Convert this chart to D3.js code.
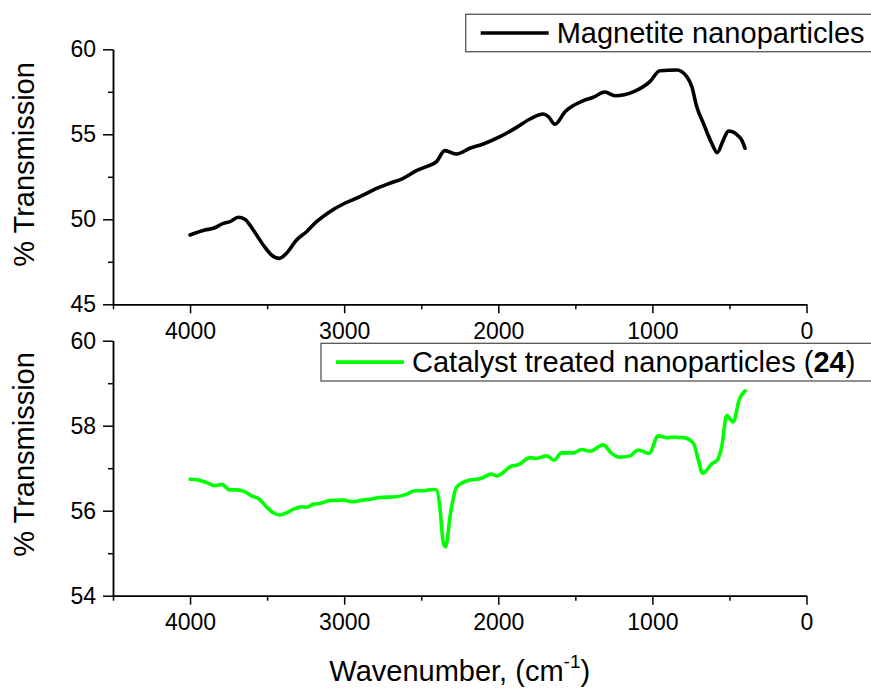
<!DOCTYPE html>
<html>
<head>
<meta charset="utf-8">
<script src="https://d3js.org/d3.v7.min.js"></script>
<style>
  body { margin: 0; background: #fff; }
  svg text { font-family: "Liberation Sans", Arial, sans-serif; fill: #000; }
  .axis path, .axis line { stroke: #000; stroke-width: 1.5px; }
  .axis text { font-size: 23px; }
</style>
</head>
<body>
<svg id="ftir"></svg>
<script>
// wavenumber (cm-1) and % transmission
let magWave = [4000, 3903, 3849, 3784, 3741, 3687, 3644, 3590, 3525, 3471, 3421, 3374, 3309, 3244,
  3179, 3093, 3006, 2898, 2812, 2704, 2617, 2531, 2466, 2401, 2347, 2270, 2184, 2097, 1989, 1881,
  1794, 1708, 1675, 1632, 1567, 1448, 1384, 1308, 1243, 1124, 1016, 951, 842, 777, 744, 712, 669,
  615, 579, 540, 507, 442, 420, 399];
let magTrans = [49.08, 49.37, 49.47, 49.76, 49.86, 50.12, 50.0, 49.37, 48.49, 47.9, 47.7, 48.0, 48.78, 49.27,
  49.86, 50.45, 50.9, 51.33, 51.72, 52.12, 52.41, 52.86, 53.1, 53.39, 54.04, 53.84, 54.18, 54.43, 54.86, 55.41,
  55.9, 56.19, 56.04, 55.59, 56.33, 56.98, 57.18, 57.49, 57.27, 57.5, 58.1, 58.74, 58.78, 58.39, 57.8, 56.62, 55.65,
  54.47, 53.92, 54.66, 55.19, 54.9, 54.66, 54.18];

let catWave = [4000, 3946, 3892, 3838, 3795, 3741, 3698, 3655, 3590, 3558, 3504, 3460, 3417, 3374, 3331,
  3277, 3244, 3201, 3158, 3093, 3006, 2942, 2877, 2833, 2769, 2660, 2595, 2541, 2487, 2422, 2401, 2379,
  2358, 2342, 2310, 2270, 2184, 2119, 2043, 2011, 1913, 1870, 1794, 1751, 1686, 1638, 1589, 1514, 1459,
  1405, 1319, 1265, 1211, 1146, 1092, 1021, 962, 907, 853, 799, 734, 702, 674, 615, 579, 550, 518, 475,
  436, 399];
let catTrans = [56.74, 56.72, 56.66, 56.59, 56.62, 56.49, 56.49, 56.46, 56.33, 56.29, 56.09, 55.95, 55.9, 55.95, 56.03,
  56.09, 56.08, 56.15, 56.17, 56.24, 56.25, 56.21, 56.25, 56.27, 56.31, 56.33, 56.39, 56.47, 56.47, 56.5, 56.49, 56.09,
  55.27, 55.15, 55.94, 56.56, 56.72, 56.75, 56.86, 56.82, 57.05, 57.08, 57.25, 57.23, 57.29, 57.19, 57.36, 57.36, 57.44,
  57.4, 57.55, 57.35, 57.26, 57.29, 57.43, 57.35, 57.76, 57.72, 57.73, 57.72, 57.59, 57.19, 56.88, 57.1, 57.19, 57.51, 58.24, 58.09,
  58.62, 58.82];

let xDomain = [4500, 0];
let xMajor = [4000, 3000, 2000, 1000, 0];
let xMinor = [4500, 3500, 2500, 1500, 500];

let topDomain = [45, 60];
let topMajor = [45, 50, 55, 60];
let topMinor = [47.5, 52.5, 57.5];

let botDomain = [54, 60];
let botMajor = [54, 56, 58, 60];
let botMinor = [55, 57, 59];

let config = {
  'svg': { width: 871, height: 689 },
  'plot': { x: 113, width: 693.5, height: 255 },
  'top': { y: 49.3 },
  'bottom': { y: 340.7 }
};

let svg = d3.select("svg#ftir")
  .attr("width", config.svg.width)
  .attr("height", config.svg.height);

let scale = {};
scale.x = d3.scaleLinear().domain(xDomain).range([0, config.plot.width]);

function drawPanel(py, yDomain, yMajor, yMinor, wave, trans, color) {
  let g = svg.append("g").attr("transform", translate(config.plot.x, py));
  let y = d3.scaleLinear().domain(yDomain).range([config.plot.height, 0]);

  // minor ticks first, then the major axis on top
  g.append("g")
    .attr("class", "axis")
    .attr("transform", translate(0, config.plot.height))
    .call(d3.axisBottom(scale.x).tickValues(xMinor).tickSize(5).tickSizeOuter(0).tickFormat(""));
  g.append("g")
    .attr("class", "axis")
    .attr("transform", translate(0, config.plot.height))
    .call(d3.axisBottom(scale.x).tickValues(xMajor).tickSize(9).tickSizeOuter(0).tickPadding(9).tickFormat(d3.format("d")));

  g.append("g")
    .attr("class", "axis")
    .call(d3.axisLeft(y).tickValues(yMinor).tickSize(5).tickSizeOuter(0).tickFormat(""));
  g.append("g")
    .attr("class", "axis")
    .call(d3.axisLeft(y).tickValues(yMajor).tickSize(10).tickSizeOuter(0).tickPadding(7).tickFormat(d3.format("d")));

  let pts = wave.map((w, i) => [w, trans[i]]);
  let line = d3.line()
    .x(d => scale.x(d[0]))
    .y(d => y(d[1]))
    .curve(d3.curveMonotoneX);

  g.append("path")
    .datum(pts)
    .attr("d", line)
    .attr("fill", "none")
    .attr("stroke", color)
    .attr("stroke-width", 3.6)
    .attr("stroke-linejoin", "round")
    .attr("stroke-linecap", "round");
}

drawPanel(config.top.y, topDomain, topMajor, topMinor, magWave, magTrans, "#000");
drawPanel(config.bottom.y, botDomain, botMajor, botMinor, catWave, catTrans, "#00ff00");

// legends
function drawLegend(x, y, h, color, build) {
  let g = svg.append("g").attr("transform", translate(x, y));
  g.append("rect")
    .attr("width", config.svg.width - x + 10)
    .attr("height", h)
    .attr("fill", "#fff")
    .attr("stroke", "#555")
    .attr("stroke-width", 1.3);
  g.append("line")
    .attr("x1", 15).attr("x2", 83)
    .attr("y1", h / 2).attr("y2", h / 2)
    .attr("stroke", color)
    .attr("stroke-width", 3.6);
  let t = g.append("text")
    .attr("x", 91)
    .attr("y", h / 2 + 10)
    .attr("font-size", "29px");
  build(t);
}

drawLegend(465.7, 14.3, 37.4, "#000", t => t.text("Magnetite nanoparticles"));
drawLegend(321, 343.3, 37.7, "#00ff00", t => {
  t.append("tspan").text("Catalyst treated nanoparticles (");
  t.append("tspan").attr("font-weight", "bold").text("24");
  t.append("tspan").text(")");
});

// axis titles
function yTitle(cy) {
  svg.append("text")
    .attr("transform", translate(34, cy) + " rotate(-90)")
    .attr("text-anchor", "middle")
    .attr("font-size", "29px")
    .text("% Transmission");
}
yTitle(164.5);
yTitle(454.5);

let xt = svg.append("text")
  .attr("x", config.plot.x + config.plot.width / 2)
  .attr("y", 681)
  .attr("text-anchor", "middle")
  .attr("font-size", "29px");
xt.append("tspan").text("Wavenumber, (cm");
xt.append("tspan").attr("font-size", "19px").attr("dy", -13).text("-1");
xt.append("tspan").attr("dy", 13).text(")");

function translate(x, y) {
  return 'translate(' + x + ',' + y + ')';
}
</script>
</body>
</html>
